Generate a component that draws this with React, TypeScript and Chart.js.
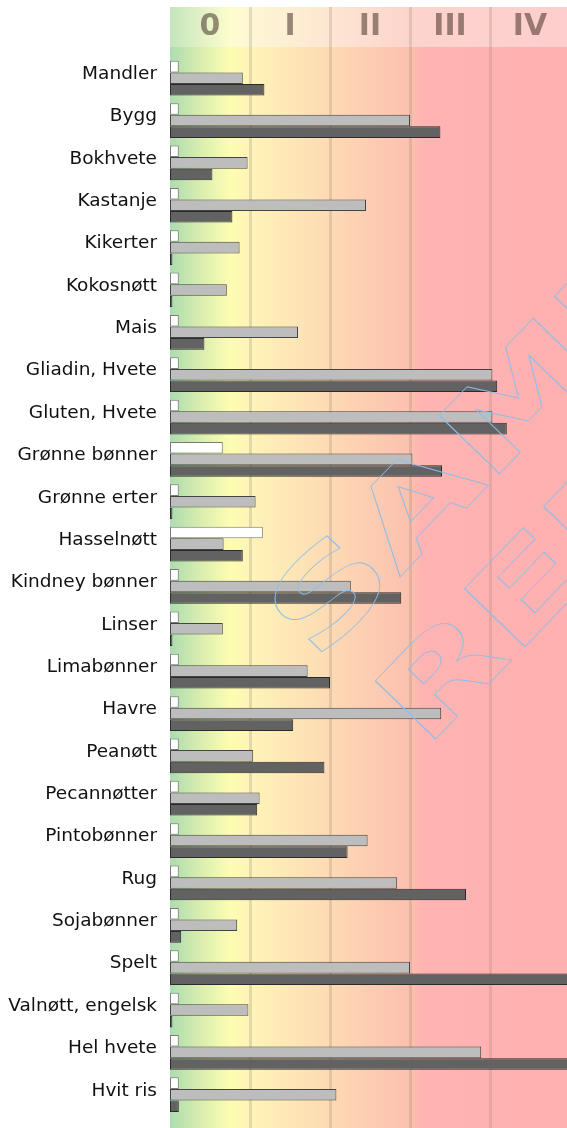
import React, { useEffect, useRef } from "react";
import { Chart, registerables } from "chart.js";

Chart.register(...registerables);

const categories = [
  "Mandler", "Bygg", "Bokhvete", "Kastanje", "Kikerter", "Kokosnøtt", "Mais",
  "Gliadin, Hvete", "Gluten, Hvete", "Grønne bønner", "Grønne erter", "Hasselnøtt",
  "Kindney bønner", "Linser", "Limabønner", "Havre", "Peanøtt", "Pecannøtter",
  "Pintobønner", "Rug", "Sojabønner", "Spelt", "Valnøtt, engelsk", "Hel hvete", "Hvit ris",
];

const whiteValues = [
  0.11, 0.11, 0.11, 0.11, 0.11, 0.11, 0.11, 0.11, 0.11, 0.66, 0.11, 1.16,
  0.11, 0.11, 0.11, 0.11, 0.11, 0.11, 0.11, 0.11, 0.11, 0.11, 0.11, 0.11, 0.11,
];

const lightValues = [
  0.91, 3.0, 0.97, 2.45, 0.87, 0.71, 1.6, 4.03, 4.03, 3.03, 1.07, 0.67,
  2.26, 0.66, 1.72, 3.39, 1.04, 1.12, 2.47, 2.84, 0.84, 3.0, 0.98, 3.89, 2.08,
];

const darkValues = [
  1.18, 3.38, 0.53, 0.78, 0.03, 0.03, 0.43, 4.09, 4.21, 3.4, 0.03, 0.91,
  2.89, 0.03, 2.0, 1.54, 1.93, 1.09, 2.22, 3.7, 0.14, 5.3, 0.03, 5.3, 0.11,
];

const classLabels = ["0", "I", "II", "III", "IV"];
const watermarkLines = ["SAMPLE", "REPORT"];

const mainStops: [number, string][] = [
  [0, "rgb(172,220,176)"],
  [0.35, "rgb(214,236,174)"],
  [0.75, "rgb(253,253,178)"],
  [1.0, "rgb(254,244,184)"],
  [2.0, "rgb(253,218,180)"],
  [3.0, "rgb(252,192,175)"],
  [3.15, "rgb(255,180,178)"],
  [5.0, "rgb(255,176,176)"],
];

const headerStops: [number, string][] = [
  [0, "rgb(196,229,190)"],
  [0.75, "rgb(253,253,205)"],
  [1.0, "rgb(253,247,212)"],
  [2.0, "rgb(253,230,210)"],
  [3.0, "rgb(253,212,205)"],
  [5.0, "rgb(254,205,205)"],
];

const HEADER_TOP = 7;
const HEADER_BOTTOM = 47;

const bgPlugin = {
  id: "bgPlugin",
  beforeDraw(chart: any) {
    const { ctx, scales } = chart;
    const xs = scales.x;
    const x0 = xs.getPixelForValue(0);
    const x5 = xs.getPixelForValue(5);
    const w = x5 - x0;
    ctx.save();
    const g = ctx.createLinearGradient(x0, 0, x5, 0);
    mainStops.forEach(([u, c]) => g.addColorStop(u / 5, c));
    ctx.fillStyle = g;
    ctx.fillRect(x0, HEADER_BOTTOM, w, chart.height - HEADER_BOTTOM);
    const h = ctx.createLinearGradient(x0, 0, x5, 0);
    headerStops.forEach(([u, c]) => h.addColorStop(u / 5, c));
    ctx.fillStyle = h;
    ctx.fillRect(x0, HEADER_TOP, w, HEADER_BOTTOM - HEADER_TOP);
    ctx.fillStyle = "rgba(160,130,110,0.25)";
    for (let u = 1; u <= 4; u++) {
      const px = xs.getPixelForValue(u);
      ctx.fillRect(px - 1, HEADER_TOP, 3, chart.height - HEADER_TOP);
    }
    ctx.font = "bold 30px 'DejaVu Sans'";
    ctx.textAlign = "center";
    ctx.textBaseline = "middle";
    ctx.fillStyle = "rgba(70,50,40,0.55)";
    classLabels.forEach((lab, i) => {
      const cx = xs.getPixelForValue(i + 0.5);
      ctx.fillText(lab, cx, 27);
    });
    ctx.restore();
  },
  afterDatasetsDraw(chart: any) {
    const { ctx } = chart;
    ctx.save();
    ctx.strokeStyle = "rgba(140,190,235,0.95)";
    ctx.lineWidth = 0.8;
    ctx.font = "bold 115px 'DejaVu Sans'";
    ctx.textAlign = "left";
    ctx.textBaseline = "alphabetic";
    const starts = [
      [316, 664],
      [425, 750],
    ];
    watermarkLines.forEach((t, i) => {
      ctx.save();
      ctx.translate(starts[i][0], starts[i][1]);
      ctx.rotate((-46 * Math.PI) / 180);
      ctx.scale(1.45, 1);
      ctx.strokeText(t, 0, 0);
      ctx.restore();
    });
    ctx.restore();
  },
};

export default function App() {
  const ref = useRef<HTMLCanvasElement | null>(null);
  useEffect(() => {
    if (!ref.current) return;
    const common = { borderWidth: 1, borderSkipped: false, categoryPercentage: 0.82, barPercentage: 1 };
    const chart = new Chart(ref.current, {
      type: "bar",
      data: {
        labels: categories,
        datasets: [
          { data: whiteValues, backgroundColor: "#ffffff", borderColor: "#7a7a7a", ...common },
          { data: lightValues, backgroundColor: "#bdbdbd", borderColor: "#444444", ...common },
          { data: darkValues, backgroundColor: "#626262", borderColor: "#2b2b2b", ...common },
        ],
      },
      options: {
        indexAxis: "y",
        responsive: false,
        animation: false,
        devicePixelRatio: 1,
        layout: { padding: { top: 57, bottom: 16, left: 0, right: 0 } },
        plugins: { legend: { display: false }, tooltip: { enabled: false }, title: { display: false } },
        scales: {
          x: { type: "linear", min: 0, max: 5, display: false },
          y: {
            grid: { display: false, drawTicks: false },
            border: { display: false },
            ticks: {
              font: { family: "'DejaVu Sans'", size: 18.5 },
              color: "#111",
              padding: 13,
              labelOffset: -4,
              autoSkip: false,
            },
            afterFit(scale: any) {
              scale.width = 170;
            },
          },
        },
      } as any,
      plugins: [bgPlugin],
    });
    return () => chart.destroy();
  }, []);
  return (
    <div style={{ position: "absolute", left: 0, top: 0, width: 567, height: 1128, overflow: "hidden", background: "#fff" }}>
      <canvas ref={ref} width={570} height={1140} style={{ display: "block" }} />
    </div>
  );
}
